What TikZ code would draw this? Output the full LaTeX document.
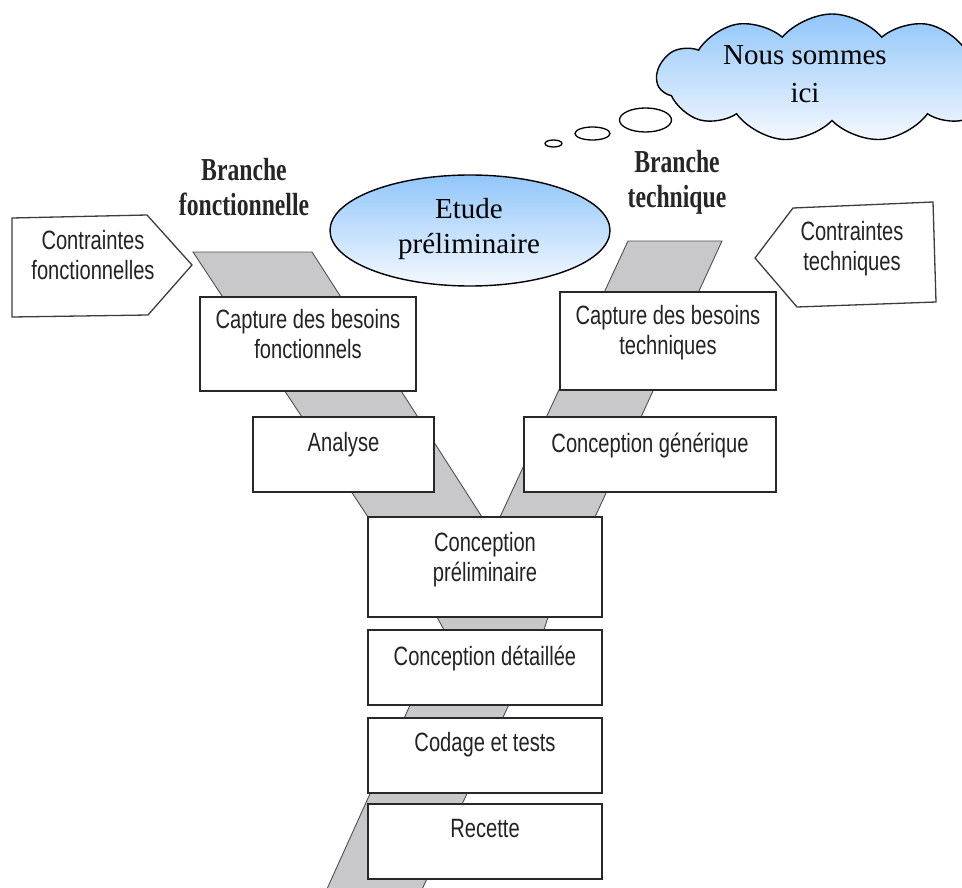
\documentclass[tikz,border=0pt]{standalone}
\usepackage{fontspec}
\setmainfont{Liberation Serif}
\newfontfamily\boxfont[FakeStretch=0.76]{Liberation Sans}
\newfontfamily\branchfont[FakeStretch=0.74]{Liberation Serif}
\usetikzlibrary{shapes.geometric,shapes.symbols}

\definecolor{bandgray}{RGB}{200,200,202}
\definecolor{bandline}{RGB}{80,80,80}
\definecolor{boxline}{RGB}{40,40,40}
\definecolor{boxtext}{RGB}{35,35,35}
\definecolor{skytop}{RGB}{145,198,250}
\definecolor{skybottom}{RGB}{245,249,255}

\tikzset{
  band/.style={fill=bandgray, draw=bandline, line width=0.9pt, line join=miter},
  stage/.style={rectangle, draw=boxline, line width=1.4pt, fill=white, inner sep=0pt},
  stagetext/.style={font=\boxfont\fontsize{26.5}{30}\selectfont, text=boxtext, align=center, inner sep=0pt},
  constraint/.style={draw=boxline!90, line width=1.3pt, fill=white, line join=miter},
  branchlabel/.style={font=\branchfont\bfseries\fontsize{32}{35}\selectfont, text=black!85, align=center, inner sep=0pt},
  serifnote/.style={font=\fontsize{29}{35}\selectfont, align=center, inner sep=0pt},
  bubble/.style={ellipse, draw=black, line width=1.3pt, fill=white, inner sep=0pt},
  skyfill/.style={top color=skytop, bottom color=skybottom, draw=black, line width=1.4pt}
}

\begin{document}
\begin{tikzpicture}[x=1pt,y=-1pt]
\useasboundingbox (0,0) rectangle (962,888);
\clip (0,0) rectangle (962,888);

% grey flow bands of the Y
\fill[white] (0,0) rectangle (962,888);
\draw[band] (193,252) -- (312,252) -- (482,517) -- (368,517) -- cycle;
\draw[band] (628,241) -- (722,241) -- (595,517) -- (500,517) -- cycle;
\draw[band] (437,617) -- (548,617) -- (544,630) -- (417,900) -- (322,900) -- (444,630) -- cycle;

% constraint arrows
\draw[constraint] (12,218) -- (147,215) -- (192,265) -- (148,315) -- (12,317) -- cycle;
\node[stagetext] (cfon) at (93,255.5) {Contraintes\\fonctionnelles};
\draw[constraint] (755,258) -- (793,208) -- (933,202) -- (936,302) -- (797,307) -- cycle;
\node[stagetext] (ctec) at (852,249) {Contraintes\\techniques};

% branch titles
\node[branchlabel] (bfon) at (244,187) {Branche\\fonctionnelle};
\node[branchlabel] (btec) at (677,182.5) {Branche\\technique};

% process stages
\node[stage, minimum width=216pt, minimum height=94pt] (cf) at (308,344) {};
\node[stagetext] (cft) at (308,334.5) {Capture des besoins\\fonctionnels};
\node[stage, minimum width=181pt, minimum height=75pt] (an) at (343.5,454.5) {};
\node[stagetext] (ant) at (343.5,445) {Analyse};
\node[stage, minimum width=216pt, minimum height=98pt] (ct) at (668,341) {};
\node[stagetext] (ctt) at (668,333) {Capture des besoins\\techniques};
\node[stage, minimum width=252pt, minimum height=75pt] (cg) at (650,454.5) {};
\node[stagetext] (cgt) at (650,445) {Conception générique};
\node[stage, minimum width=234pt, minimum height=100pt] (cp) at (485,567) {};
\node[stagetext] (cpt) at (485,560) {Conception\\préliminaire};
\node[stage, minimum width=234pt, minimum height=75pt] (cd) at (485,667.5) {};
\node[stagetext] (cdt) at (485,658) {Conception détaillée};
\node[stage, minimum width=234pt, minimum height=75pt] (co) at (485,755.5) {};
\node[stagetext] (cot) at (485,745) {Codage et tests};
\node[stage, minimum width=234pt, minimum height=75pt] (re) at (485,841.5) {};
\node[stagetext] (ret) at (485,828.5) {Recette};

% preliminary study
\node[ellipse, skyfill, minimum width=280pt, minimum height=111pt, inner sep=0pt] (ep) at (470,230.5) {};
\node[serifnote] (ept) at (469,229) {Etude\\préliminaire};

% thought cloud
\node[bubble, minimum width=17pt, minimum height=7pt] (b1) at (553.5,143.5) {};
\node[bubble, minimum width=35pt, minimum height=13pt] (b2) at (592.5,133.5) {};
\node[bubble, minimum width=52pt, minimum height=24pt] (b3) at (645.5,120) {};
\node[cloud, cloud puffs=11, cloud puff arc=100, cloud ignores aspect, skyfill,
      minimum width=350pt, minimum height=128pt, inner sep=0pt] (cl) at (832,78) {};
\node[serifnote, font=\fontsize{29}{38}\selectfont] (clt) at (805,74.5) {Nous sommes\\ici};
\end{tikzpicture}
\end{document}
